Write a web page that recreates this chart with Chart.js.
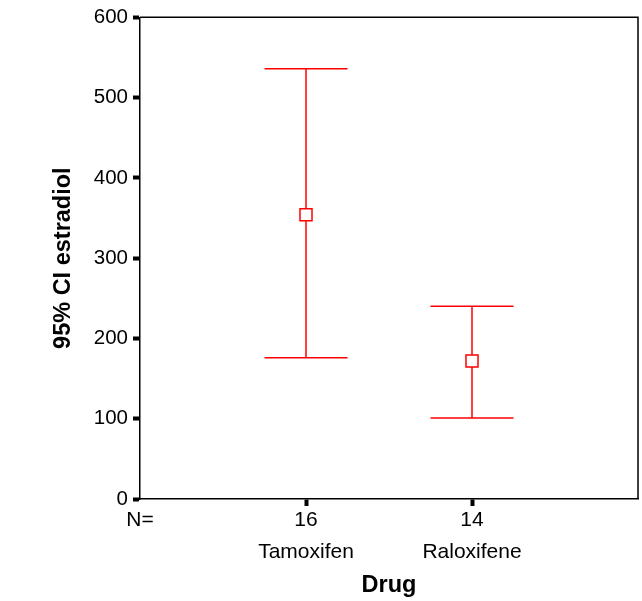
<!DOCTYPE html>
<html>
<head>
<meta charset="utf-8">
<script src="https://cdn.jsdelivr.net/npm/chart.js@4"></script>
<style>
  html, body { margin: 0; padding: 0; background: #fff; }
  canvas { display: block; }
</style>
</head>
<body>
<canvas id="c" width="642" height="601"></canvas>
<script>
const categories = ['Tamoxifen', 'Raloxifene'];
const nValues = [16, 14];
const means = [354, 172];
const lowerCI = [176, 101];
const upperCI = [536, 240];
const yTickValues = [0, 100, 200, 300, 400, 500, 600];

const RED = 'rgb(255,0,0)';
const CAP = 0.25;

const datasets = [];
// mean markers (drawn on top)
datasets.push({
  type: 'scatter',
  data: means.map((m, i) => ({ x: i + 1, y: m })),
  pointStyle: 'rect',
  pointRadius: 8.5,
  pointBackgroundColor: '#fff',
  pointBorderColor: RED,
  pointBorderWidth: 1.5,
  showLine: false,
  order: 0
});
categories.forEach((c, i) => {
  const lineStyle = { type: 'line', borderColor: RED, borderWidth: 1.5, pointRadius: 0, fill: false, order: 1, showLine: true };
  datasets.push(Object.assign({ data: [{ x: i + 1, y: lowerCI[i] }, { x: i + 1, y: upperCI[i] }] }, lineStyle));
  datasets.push(Object.assign({ data: [{ x: i + 1 - CAP, y: upperCI[i] }, { x: i + 1 + CAP, y: upperCI[i] }] }, lineStyle));
  datasets.push(Object.assign({ data: [{ x: i + 1 - CAP, y: lowerCI[i] }, { x: i + 1 + CAP, y: lowerCI[i] }] }, lineStyle));
});

const frame = {
  id: 'frame',
  afterDatasetsDraw(chart) {
    const { ctx, chartArea: a } = chart;
    ctx.save();
    ctx.strokeStyle = '#000';
    ctx.lineWidth = 1.5;
    ctx.beginPath();
    ctx.moveTo(a.left, a.top);
    ctx.lineTo(a.right, a.top);
    ctx.lineTo(a.right, a.bottom);
    ctx.stroke();
    ctx.restore();
  }
};

new Chart(document.getElementById('c'), {
  type: 'scatter',
  data: { datasets },
  plugins: [frame],
  options: {
    responsive: false,
    animation: false,
    layout: { autoPadding: false, padding: { top: 16, right: 4, left: 0, bottom: 0 } },
    plugins: { legend: { display: false }, tooltip: { enabled: false } },
    scales: {
      x: {
        type: 'linear',
        min: 0,
        max: 3,
        afterBuildTicks: s => { s.ticks = [0, 1, 2].map(v => ({ value: v })); },
        afterFit: s => { s.height = 102; s.paddingLeft = 0; s.paddingRight = 0; },
        ticks: {
          color: '#000',
          font: { family: 'Liberation Sans, Arial, sans-serif', size: 21, lineHeight: 1.53 },
          padding: -2,
          autoSkip: false,
          maxRotation: 0,
          callback: v => v === 0 ? 'N=' : [String(nValues[v - 1]), categories[v - 1]]
        },
        grid: {
          drawOnChartArea: false,
          tickLength: 7,
          tickWidth: 4,
          tickColor: ctx => (ctx.tick && ctx.tick.value === 0) ? 'rgba(0,0,0,0)' : '#000'
        },
        border: { color: '#000', width: 1.5 },
        title: {
          display: true,
          text: 'Drug',
          color: '#000',
          font: { family: 'Liberation Sans, Arial, sans-serif', size: 23.5, weight: 'bold' },
          padding: { top: 0, bottom: 1 }
        }
      },
      y: {
        min: 0,
        max: 600,
        afterBuildTicks: s => { s.ticks = yTickValues.map(v => ({ value: v })); },
        afterFit: s => { s.width = 140; },
        ticks: {
          color: '#000',
          font: { family: 'Liberation Sans, Arial, sans-serif', size: 20.5 },
          padding: 5
        },
        grid: {
          drawOnChartArea: false,
          tickLength: 7,
          tickWidth: 4,
          tickColor: '#000'
        },
        border: { color: '#000', width: 1.5 },
        title: {
          display: true,
          text: '95% CI estradiol',
          color: '#000',
          font: { family: 'Liberation Sans, Arial, sans-serif', size: 23.5, weight: 'bold' },
          padding: { top: 49, bottom: 0 }
        }
      }
    }
  }
});
</script>
</body>
</html>
